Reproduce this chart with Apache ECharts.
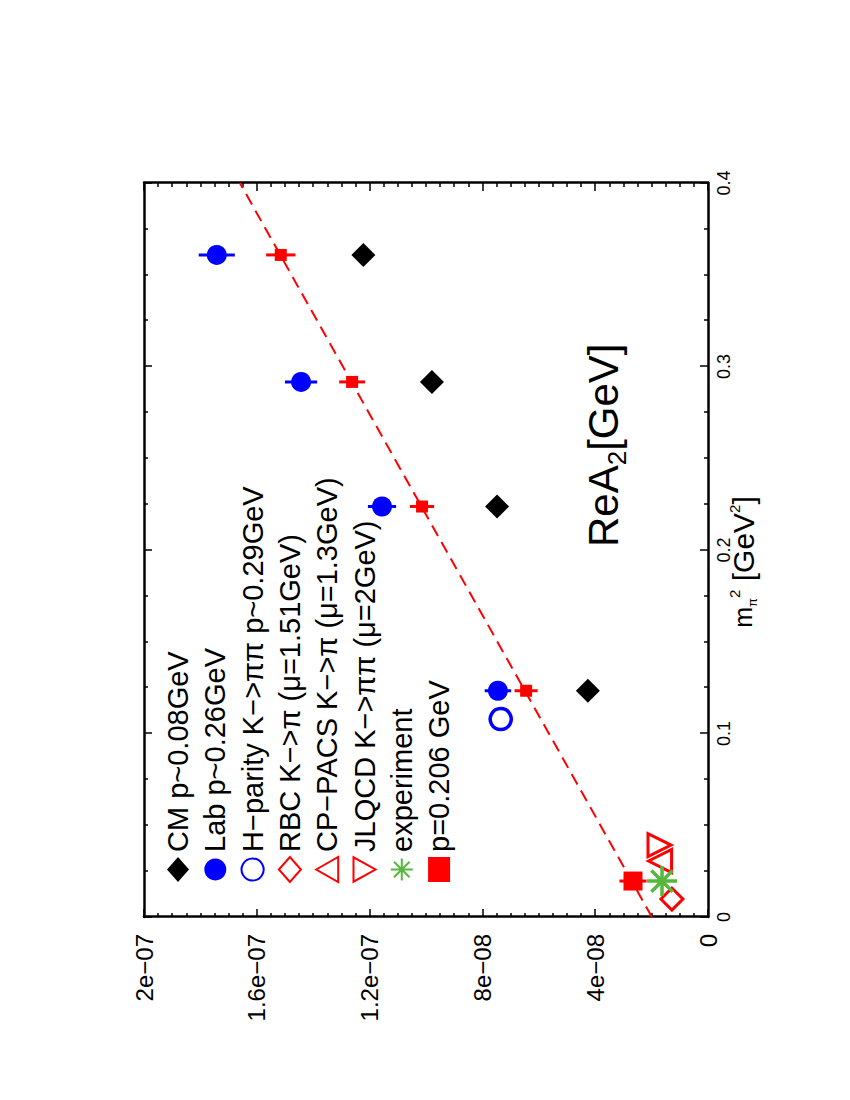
<!DOCTYPE html>
<html>
<head>
<meta charset="utf-8">
<title>ReA2 vs m_pi^2</title>
<script src="https://cdn.jsdelivr.net/npm/echarts@6/dist/echarts.min.js"></script>
<style>
    html, body { margin: 0; padding: 0; background: #fff; overflow: hidden; }
    /* the plot is drawn landscape and turned a quarter turn, like the original page */
    #chart { position: absolute; left: 0; top: 0; width: 1100px; height: 850px;
             transform-origin: 0 0; transform: translate(0, 1100px) rotate(-90deg); }
</style>
</head>
<body>
<div id="chart"></div>
<script>
// ---- data (x = m_pi^2 [GeV^2], y = ReA2 [GeV]) ----
var mTicks = ['0', '0.1', '0.2', '0.3', '0.4'];
var aTicks = ['0', '4e\u221208', '8e\u221208', '1.2e\u221207', '1.6e\u221207', '2e\u221207'];

var latticeM2 = [0.1233, 0.2237, 0.2916, 0.3608];
var cmA2 = [4.26e-8, 7.48e-8, 9.79e-8, 1.222e-7];
var labA2 = [7.45e-8, 1.156e-7, 1.443e-7, 1.742e-7];
var labErr = [4.7e-9, 5.0e-9, 5.7e-9, 6.4e-9];

var p206M2 = [0.0196, 0.1233, 0.2237, 0.2916, 0.3608];
var p206A2 = [2.66e-8, 6.45e-8, 1.014e-7, 1.262e-7, 1.515e-7];
var p206Err = [4.8e-9, 4.1e-9, 4.3e-9, 4.6e-9, 5.2e-9];

var hparM2 = [0.1079];
var hparA2 = [7.35e-8];
var rbcM2 = [0.0098];
var rbcA2 = [1.28e-8];
var rbcErr = [1.5e-9];
var cppacsM2 = [0.0305];
var cppacsA2 = [1.70e-8];
var cppacsErr = [1.5e-9];
var jlqcdM2 = [0.0392];
var jlqcdA2 = [1.72e-8];
var jlqcdErr = [1.5e-9];
var expM2 = [0.0196];
var expA2 = [1.63e-8];

var fitM2 = [0, 0.4];
var fitA2 = [1.99e-8, 1.66e-7];

var names = ['CM p~0.08GeV', 'Lab p~0.26GeV', 'H\u2212parity K\u2212>\u03c0\u03c0 p~0.29GeV',
    'RBC K\u2212>\u03c0 (\u03bc=1.51GeV)', 'CP\u2212PACS K\u2212>\u03c0 (\u03bc=1.3GeV)',
    'JLQCD K\u2212>\u03c0\u03c0 (\u03bc=2GeV)', 'experiment', 'p=0.206 GeV'];

var FONT = "'Liberation Sans', Helvetica, Arial, sans-serif";
var BLUE = '#0000ff', RED = '#ff0000', GREEN = '#55b83c';

function pts(xs, ys) { return xs.map(function (x, i) { return [x, ys[i]]; }); }
function bars(xs, ys, es) { return xs.map(function (x, i) { return [x, ys[i] - es[i], ys[i] + es[i]]; }); }

// vertical error bars
function errSeries(data, color) {
    return {
        type: 'custom', silent: true, z: 2, data: data,
        encode: { x: 0, y: [1, 2] },
        renderItem: function (params, api) {
            var a = api.coord([api.value(0), api.value(1)]);
            var b = api.coord([api.value(0), api.value(2)]);
            return { type: 'line', shape: { x1: a[0], y1: a[1], x2: b[0], y2: b[1] },
                     style: { stroke: color, lineWidth: 3 } };
        }
    };
}

var tickStyle = { color: '#000', width: 1.5 };
function mAxis(pos, labels) {
    return {
        type: 'value', min: 0, max: 0.4, interval: 0.1, position: pos,
        axisLine: { onZero: false, lineStyle: { color: '#000', width: 2.5 } },
        axisTick: { inside: true, length: 8, lineStyle: tickStyle },
        minorTick: { show: true, splitNumber: 4, length: 4, lineStyle: tickStyle },
        splitLine: { show: false }, minorSplitLine: { show: false },
        axisLabel: { show: labels, fontSize: 18, margin: 7, color: '#000', fontFamily: FONT,
            formatter: function (v) { return mTicks[Math.round(v / 0.1)]; } }
    };
}
function aAxis(pos, labels) {
    return {
        type: 'value', min: 0, max: 2e-7, interval: 4e-8, position: pos,
        axisLine: { onZero: false, lineStyle: { color: '#000', width: 2.5 } },
        axisTick: { inside: true, length: 8, lineStyle: tickStyle },
        minorTick: { show: true, splitNumber: 8, length: 4, lineStyle: tickStyle },
        splitLine: { show: false }, minorSplitLine: { show: false },
        axisLabel: { show: labels, fontSize: 24, margin: 17, color: '#000',
            fontFamily: "'Liberation Sans Narrow', " + FONT,
            formatter: function (v) { return aTicks[Math.round(v / 4e-8)]; } }
    };
}

var xMain = mAxis('bottom', true);
xMain.name = '{m|m}{pi|\u03c0}{sq|2}{t| [GeV}{sup|2}{t|]}';
xMain.nameLocation = 'middle';
xMain.nameGap = 19;
xMain.nameMoveOverlap = false;
xMain.nameTextStyle = {
    padding: [0, 24, 0, 0],
    rich: {
        m: { fontSize: 25, fontFamily: FONT, color: '#000', lineHeight: 32 },
        pi: { fontSize: 13, fontFamily: FONT, color: '#000', lineHeight: 14, verticalAlign: 'bottom' },
        sq: { fontSize: 15, fontFamily: FONT, color: '#000', lineHeight: 15, verticalAlign: 'top' },
        t: { fontSize: 30, fontFamily: FONT, color: '#000', lineHeight: 32 },
        sup: { fontSize: 15, fontFamily: FONT, color: '#000', lineHeight: 15, verticalAlign: 'top' }
    }
};

var chart = echarts.init(document.getElementById('chart'), null, { renderer: 'svg' });

chart.setOption({
    animation: false,
    backgroundColor: '#fff',
    grid: { left: 183, right: 183, top: 144, bottom: 142 },
    xAxis: [xMain, mAxis('top', false)],
    yAxis: [aAxis('left', true), aAxis('right', false)],
    legend: {
        orient: 'vertical', left: 212, top: 158,
        itemWidth: 25, itemHeight: 22, itemGap: 7.3,
        selectedMode: false, data: names,
        textStyle: { fontSize: 29, lineHeight: 30, color: '#000', fontFamily: FONT }
    },
    graphic: [{
        type: 'text', left: 553, top: 578, z: 10,
        style: {
            text: '{a|ReA}{s|2}{a|[GeV]}', fill: '#000',
            rich: {
                a: { fontSize: 42, fontFamily: FONT, lineHeight: 44, verticalAlign: 'top' },
                s: { fontSize: 26, fontFamily: FONT, lineHeight: 26, padding: [26, 0, 0, 0] }
            }
        }
    }],
    series: [
        { type: 'line', silent: true, z: 1, showSymbol: false, data: pts(fitM2, fitA2),
          lineStyle: { color: RED, width: 2, type: [12, 7] } },
        errSeries(bars(latticeM2, labA2, labErr), BLUE),
        errSeries(bars(p206M2, p206A2, p206Err), RED),
        errSeries(bars(rbcM2, rbcA2, rbcErr), RED),
        errSeries(bars(cppacsM2, cppacsA2, cppacsErr), RED),
        errSeries(bars(jlqcdM2, jlqcdA2, jlqcdErr), RED),
        { name: names[0], type: 'scatter', z: 3, symbol: 'diamond', symbolSize: 24,
          itemStyle: { color: '#000', opacity: 1 }, data: pts(latticeM2, cmA2) },
        { name: names[1], type: 'scatter', z: 3, symbol: 'circle', symbolSize: 20,
          itemStyle: { color: BLUE, opacity: 1 }, data: pts(latticeM2, labA2) },
        { name: names[2], type: 'scatter', z: 3, symbol: 'circle', symbolSize: 21,
          itemStyle: { color: '#fff', borderColor: BLUE, borderWidth: 3.5, opacity: 1 },
          data: pts(hparM2, hparA2) },
        { name: names[3], type: 'scatter', z: 3, symbol: 'diamond', symbolSize: 22,
          itemStyle: { color: '#fff', borderColor: RED, borderWidth: 3, opacity: 1 },
          data: pts(rbcM2, rbcA2) },
        { name: names[4], type: 'scatter', z: 3, symbol: 'triangle', symbolSize: 23,
          itemStyle: { color: '#fff', borderColor: RED, borderWidth: 3, opacity: 1 },
          data: pts(cppacsM2, cppacsA2) },
        { name: names[5], type: 'scatter', z: 3, symbol: 'path://M0,0L10,0L5,9Z', symbolSize: 23,
          itemStyle: { color: '#fff', borderColor: RED, borderWidth: 3, opacity: 1 },
          data: pts(jlqcdM2, jlqcdA2) },
        { name: names[6], type: 'scatter', z: 3, symbolSize: 30,
          symbol: 'path://M5,0L5,10M0,5L10,5M1.46,1.46L8.54,8.54M8.54,1.46L1.46,8.54',
          itemStyle: { color: GREEN, borderColor: GREEN, borderWidth: 3.5, opacity: 1 },
          data: pts(expM2, expA2) },
        { name: names[7], type: 'scatter', z: 3, symbol: 'rect', itemStyle: { color: RED, opacity: 1 },
          symbolSize: function (v) { return v[0] < 0.05 ? 19 : 12; },
          data: pts(p206M2, p206A2) }
    ]
});
</script>
</body>
</html>
